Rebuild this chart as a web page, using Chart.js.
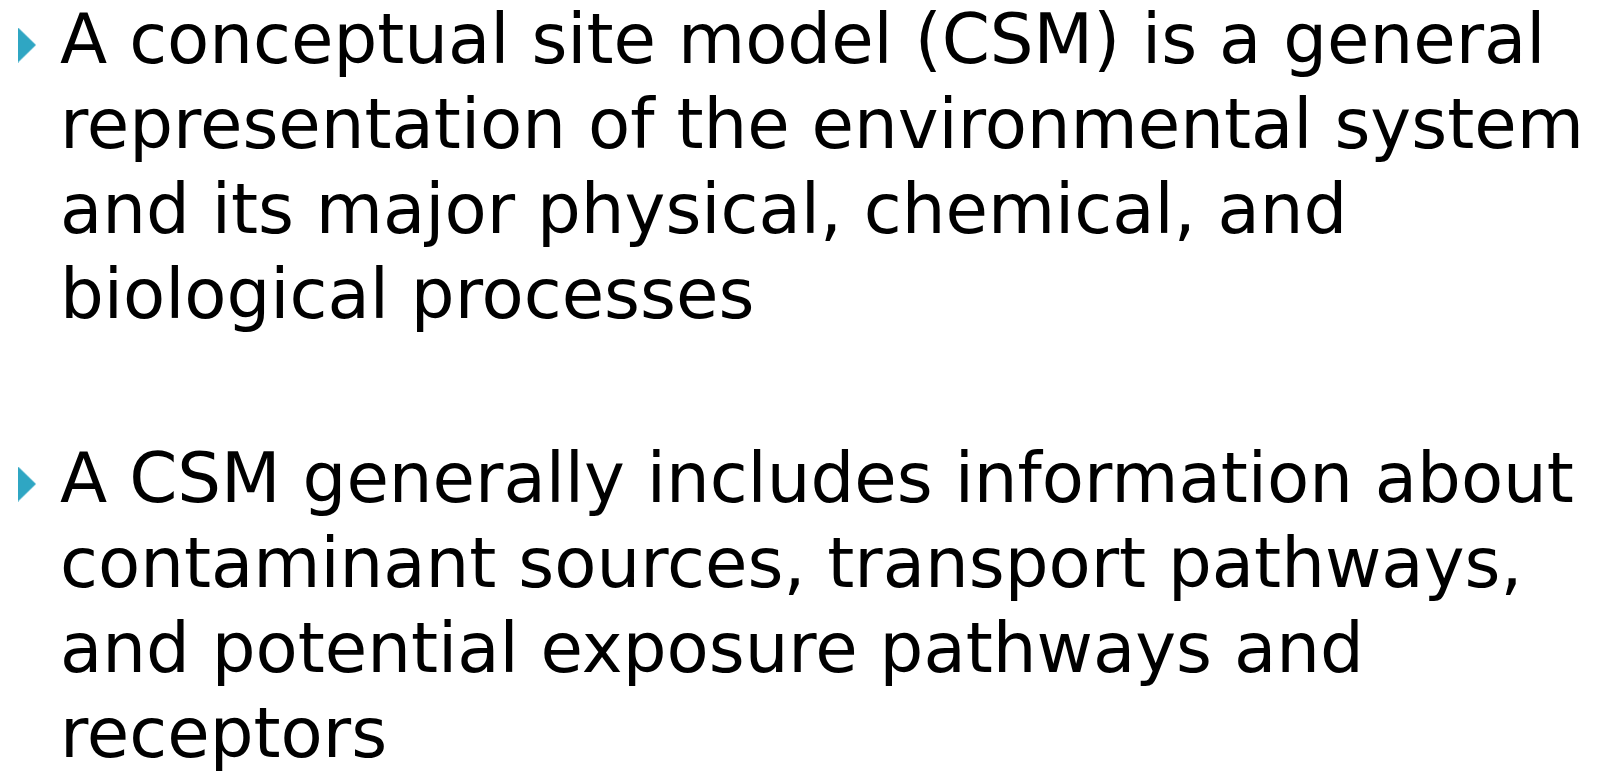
<!DOCTYPE html>
<html lang="en">
<head>
<meta charset="UTF-8">
<title>Conceptual site model</title>
<script src="https://cdn.jsdelivr.net/npm/chart.js"></script>
<style>
    html, body {
        margin: 0;
        padding: 0;
        background: #ffffff;
    }

    body {
        width: 1610px;
        height: 773px;
        overflow: hidden;
        position: relative;
    }

    #bullets {
        position: absolute;
        left: 0;
        top: 0;
    }

    .line {
        position: absolute;
        left: 60px;
        top: 0;
        white-space: nowrap;
        font-family: 'DejaVu Sans', sans-serif;
        font-size: 69px;
        line-height: 85px;
        color: #000000;
    }

    .strut {
        display: inline-block;
        width: 0;
        height: 0;
        vertical-align: baseline;
    }
</style>
</head>
<body>

<canvas id="bullets" width="1610" height="773"></canvas>

<script>
    // Slide text, one entry per paragraph, one string per rendered line
    const paragraph1 = [
        'A conceptual site model (CSM) is a general',
        'representation of the environmental system',
        'and its major physical, chemical, and',
        'biological processes'
    ];
    const paragraph2 = [
        'A CSM generally includes information about',
        'contaminant sources, transport pathways,',
        'and potential exposure pathways and',
        'receptors'
    ];
    const paragraphs = [paragraph1, paragraph2];

    // Layout
    const pageW = 1610, pageH = 773;
    const firstBaseline = 63;
    const lineStep = 85;
    const paragraphStep = 184;   // last baseline -> next paragraph first baseline
    const bulletX = 27;
    const bulletLift = 18;       // bullet centre above first baseline
    const bulletColor = '#2fa6c3';

    const baselines = [];
    const bulletPoints = [];
    let y = firstBaseline;
    paragraphs.forEach((lines, p) => {
        if (p > 0) y += paragraphStep - lineStep;
        bulletPoints.push({ x: bulletX, y: y - bulletLift });
        lines.forEach(text => {
            baselines.push({ text, y });
            y += lineStep;
        });
    });

    // Text lines as real text, placed on their baselines
    baselines.forEach(item => {
        const div = document.createElement('div');
        div.className = 'line';
        div.appendChild(document.createTextNode(item.text));
        const strut = document.createElement('span');
        strut.className = 'strut';
        div.appendChild(strut);
        document.body.appendChild(div);
        div.style.top = (item.y - strut.offsetTop) + 'px';
    });

    // Bullet glyph: narrow right-pointing triangle
    const marker = document.createElement('canvas');
    marker.width = 18;
    marker.height = 35;
    const mctx = marker.getContext('2d');
    mctx.fillStyle = bulletColor;
    mctx.beginPath();
    mctx.moveTo(0, 0);
    mctx.lineTo(18, 17.5);
    mctx.lineTo(0, 35);
    mctx.closePath();
    mctx.fill();

    const ctx = document.getElementById('bullets').getContext('2d');
    new Chart(ctx, {
        type: 'scatter',
        data: {
            datasets: [{
                data: bulletPoints,
                pointStyle: marker,
                pointRadius: 10,
                pointHoverRadius: 10,
                clip: false
            }]
        },
        options: {
            responsive: false,
            animation: false,
            events: [],
            layout: { padding: 0, autoPadding: false },
            plugins: {
                legend: { display: false },
                tooltip: { enabled: false }
            },
            scales: {
                x: { display: false, min: 0, max: pageW },
                y: { display: false, min: 0, max: pageH, reverse: true }
            }
        }
    });
</script>

</body>
</html>
